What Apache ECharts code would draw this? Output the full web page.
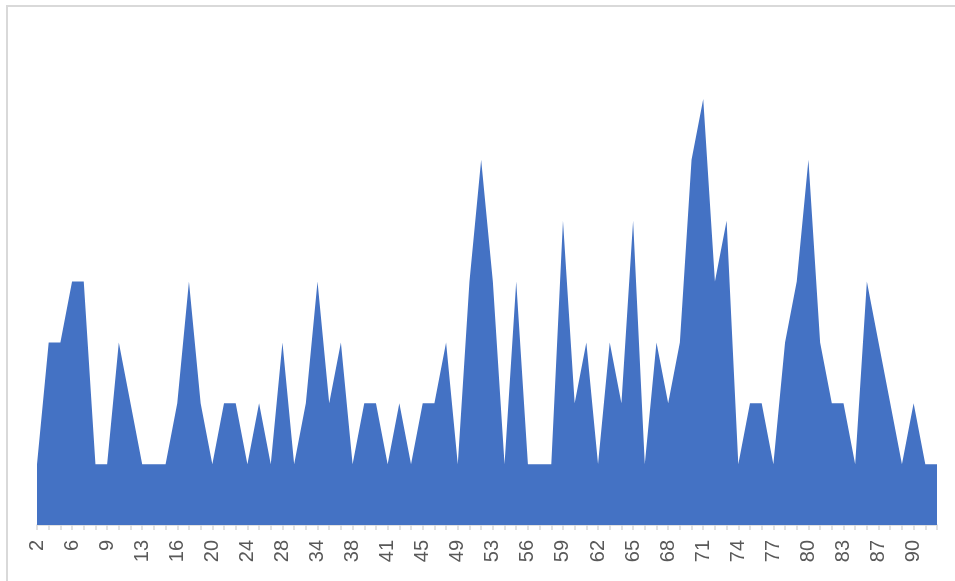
<!DOCTYPE html>
<html>
<head>
<meta charset="utf-8">
<script src="https://cdn.jsdelivr.net/npm/echarts@6/dist/echarts.min.js"></script>
<style>
html,body{margin:0;padding:0;background:#fff;}
#chart{width:955px;height:581px;}
</style>
</head>
<body>
<div id="chart"></div>
<script>
var categories = [2,3,4,6,7,8,9,10,11,13,14,15,16,17,18,20,21,22,24,25,26,28,30,32,34,35,36,38,39,40,41,42,43,45,46,47,49,50,51,53,54,55,56,57,58,59,60,61,62,63,64,65,66,67,68,69,70,71,72,73,74,75,76,77,78,79,80,81,82,83,84,86,87,88,89,90,91,92];
var values = [1,3,3,4,4,1,1,3,2,1,1,1,2,4,2,1,2,2,1,2,1,3,1,2,4,
              2,3,1,2,2,1,2,1,2,2,3,1,4,6,4,1,4,1,1,1,5,2,3,1,3,2,5,
              1,3,2,3,6,7,4,5,1,2,2,1,3,4,6,3,2,2,1,4,3,2,1,2,1,1];
var yMax = 8;

var chart = echarts.init(document.getElementById('chart'), null, {renderer:'canvas'});
chart.setOption({
  animation: false,
  backgroundColor: '#ffffff',
  graphic: [{
    type: 'rect',
    shape: {x: 7, y: 6, width: 1000, height: 700},
    style: {fill: 'none', stroke: '#d9d9d9', lineWidth: 2},
    silent: true
  }],
  grid: {left: 37, right: 18, top: 38, bottom: 56, containLabel: false},
  xAxis: {
    type: 'category',
    data: categories,
    boundaryGap: false,
    axisLine: {show: true, lineStyle: {color: '#d9d9d9', width: 1.5}},
    axisTick: {show: true, interval: 0, length: 5, lineStyle: {color: '#d9d9d9', width: 1.5}},
    axisLabel: {
      interval: 2, rotate: 90, color: '#595959', fontSize: 20,
      fontFamily: 'Liberation Sans', margin: 15
    },
    splitLine: {show: false}
  },
  yAxis: {
    type: 'value', min: 0, max: yMax, show: false,
    splitLine: {show: false}
  },
  series: [{
    type: 'line',
    data: values,
    symbol: 'none',
    lineStyle: {width: 0, color: '#4472C4'},
    itemStyle: {color: '#4472C4'},
    areaStyle: {color: '#4472C4', opacity: 1}
  }]
});
</script>
</body>
</html>
